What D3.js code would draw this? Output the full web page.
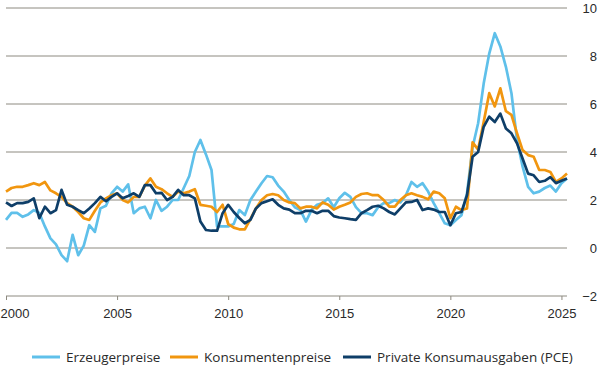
<!DOCTYPE html>
<html>
<head>
<meta charset="utf-8">
<script src="https://cdn.jsdelivr.net/npm/d3@7"></script>
<style>
  body { margin: 0; background: #fff; }
  svg { display: block; font-family: "Open Sans", "Noto Sans", sans-serif; }
  .axis text { fill: #2a2a2a; font-size: 13px; }
  .legend text { fill: #2a2a2a; font-size: 13.5px; }
</style>
</head>
<body>
<div id="chart"></div>
<script>
// quarterly values, starting 2000 Q1
var startYear = 2000;
var erzeuger = [1.17, 1.46, 1.46, 1.3, 1.4, 1.58, 1.46, 0.9, 0.4, 0.15, -0.3, -0.55, 0.55, -0.3, 0.1, 0.95,
  0.67, 1.65, 1.76, 2.28, 2.55, 2.35, 2.65, 1.45, 1.65, 1.72, 1.24, 2.0, 1.55, 1.72, 2.0, 2.0,
  2.5, 3.0, 4.0, 4.5, 3.9, 3.25, 0.9, 0.9, 0.9, 1.0, 1.58, 1.37, 2.0, 2.35, 2.7, 3.0,
  2.95, 2.6, 2.35, 2.0, 1.7, 1.58, 1.1, 1.58, 1.8, 1.87, 2.07, 1.7, 2.07, 2.3, 2.13, 1.7,
  1.45, 1.45, 1.37, 1.7, 1.87, 1.87, 2.0, 1.9, 2.2, 2.75, 2.55, 2.7, 2.35, 1.87, 1.45, 1.03,
  0.95, 1.17, 1.37, 2.28, 4.2, 5.2, 6.85, 8.1, 8.95, 8.4, 7.55, 6.45, 4.5, 3.4, 2.55, 2.28,
  2.35, 2.5, 2.6, 2.35, 2.7, 2.9];
var konsumenten = [2.35, 2.5, 2.55, 2.55, 2.62, 2.7, 2.62, 2.75, 2.4, 2.28, 2.13, 1.87, 1.72, 1.5, 1.24, 1.17,
  1.55, 1.9, 2.07, 2.2, 2.28, 2.0, 1.9, 2.13, 2.13, 2.6, 2.9, 2.55, 2.45, 2.28, 2.13, 2.35,
  2.28, 2.35, 2.45, 1.8, 1.76, 1.72, 1.5, 1.8, 1.0, 0.85, 0.78, 0.78, 1.2, 1.65, 2.0, 2.2,
  2.25, 2.2, 2.0, 1.9, 1.87, 1.65, 1.72, 1.72, 1.65, 1.9, 1.8, 1.6, 1.72, 1.8, 1.9, 2.13,
  2.25, 2.28, 2.2, 2.2, 2.0, 1.72, 1.72, 2.0, 2.2, 2.28, 2.2, 2.13, 2.03, 2.35, 2.28, 2.07,
  1.24, 1.72, 1.58, 1.65, 4.4, 4.1, 5.25, 6.45, 5.9, 6.65, 5.7, 5.55, 4.78, 4.08, 3.87, 3.8,
  3.25, 3.25, 3.17, 2.75, 2.9, 3.1];
var pce = [1.9, 1.75, 1.87, 1.87, 1.92, 2.07, 1.24, 1.72, 1.45, 1.58, 2.42, 1.8, 1.72, 1.58, 1.45, 1.65,
  1.87, 2.13, 1.95, 2.13, 2.28, 2.07, 2.17, 2.28, 2.13, 2.62, 2.62, 2.28, 2.3, 2.0, 2.13, 2.42,
  2.2, 2.2, 2.07, 1.1, 0.75, 0.72, 0.72, 1.45, 1.8, 1.5, 1.25, 1.03, 1.17, 1.65, 1.87, 1.95,
  2.03, 1.8, 1.65, 1.6, 1.45, 1.45, 1.55, 1.55, 1.45, 1.55, 1.55, 1.33, 1.27, 1.24, 1.2, 1.17,
  1.45, 1.58, 1.72, 1.76, 1.65, 1.5, 1.4, 1.65, 1.9, 1.92, 2.0, 1.58, 1.65, 1.6, 1.5, 1.5,
  0.95, 1.45, 1.5, 2.2, 3.8, 4.0, 5.05, 5.47, 5.25, 5.6, 4.98, 4.78, 4.36, 3.73, 3.1, 3.03,
  2.75, 2.8, 2.95, 2.7, 2.8, 2.9];

var seriesNames = ["Erzeugerpreise", "Konsumentenpreise", "Private Konsumausgaben (PCE)"];
var seriesColors = ["#5fc0ea", "#f1960f", "#0e3e68"];
var yTicks = [-2, 0, 2, 4, 6, 8, 10];
var xTicks = [2000, 2005, 2010, 2015, 2020, 2025];

function drawChart() {
  var svgWidth = 600, svgHeight = 380;
  var plot = { left: 6, right: 567, top: 8, bottom: 296 };

  var svg = d3.select("#chart").append("svg")
    .attr("width", svgWidth)
    .attr("height", svgHeight);

  var lastT = startYear + (erzeuger.length - 1) / 4;
  var x = d3.scaleLinear().domain([startYear, lastT]).range([plot.left, plot.right]);
  var y = d3.scaleLinear().domain([-2, 10]).range([plot.bottom, plot.top]);

  // gridlines
  svg.append("g").selectAll("line")
    .data(yTicks)
    .enter().append("line")
    .attr("x1", plot.left)
    .attr("x2", plot.right)
    .attr("y1", d => y(d))
    .attr("y2", d => y(d))
    .attr("stroke", "#8d8a80")
    .attr("stroke-width", 1);

  // y labels on the right
  var yAxis = svg.append("g")
    .attr("class", "axis")
    .attr("transform", "translate(597,0)")
    .call(d3.axisLeft(y).tickValues(yTicks).tickSize(0).tickPadding(0));
  yAxis.select(".domain").remove();
  yAxis.selectAll("text").attr("text-anchor", "end");

  // x axis
  var xAxis = svg.append("g")
    .attr("class", "axis")
    .attr("transform", `translate(0, ${plot.bottom})`)
    .call(d3.axisBottom(x).tickValues(xTicks).tickFormat(d3.format("d")).tickSize(4).tickPadding(9));
  xAxis.select(".domain").remove();
  xAxis.selectAll(".tick line").attr("stroke", "#8d8a80");
  xAxis.selectAll(".tick text")
    .filter(d => d === 2000)
    .attr("text-anchor", "start")
    .attr("x", -6);

  // lines
  var line = d3.line()
    .x((d, i) => x(startYear + i / 4))
    .y(d => y(d));

  [erzeuger, konsumenten, pce].forEach(function (data, k) {
    svg.append("path")
      .datum(data)
      .attr("fill", "none")
      .attr("stroke", seriesColors[k])
      .attr("stroke-width", 2.7)
      .attr("stroke-linejoin", "round")
      .attr("d", line);
  });

  // legend
  var legendX = [32, 170, 343];
  var legend = svg.append("g").attr("class", "legend");
  seriesNames.forEach(function (name, k) {
    legend.append("line")
      .attr("x1", legendX[k])
      .attr("x2", legendX[k] + 28)
      .attr("y1", 357)
      .attr("y2", 357)
      .attr("stroke", seriesColors[k])
      .attr("stroke-width", 3);
    legend.append("text")
      .attr("x", legendX[k] + 34)
      .attr("y", 357)
      .attr("dy", "0.35em")
      .text(name);
  });
}

drawChart();
</script>
</body>
</html>
